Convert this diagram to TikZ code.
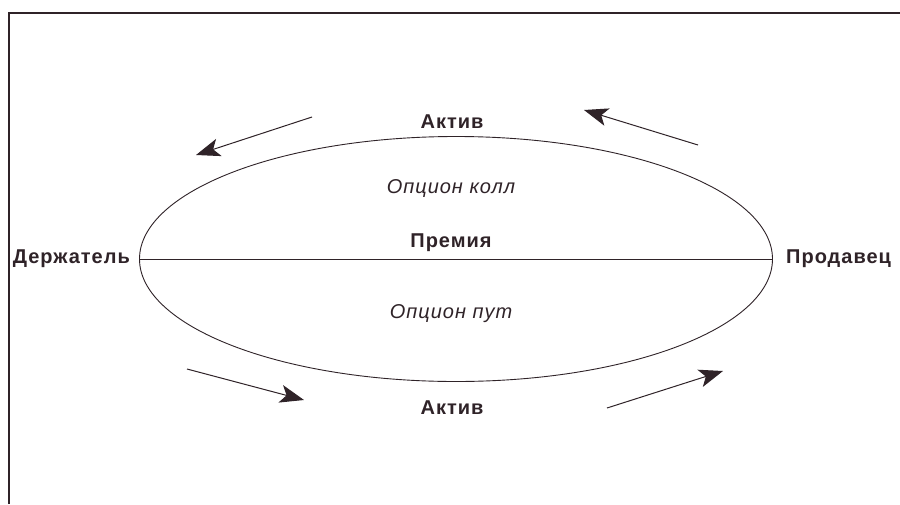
\documentclass[tikz,border=0pt]{standalone}
\usepackage{fontspec}
\setmainfont{Liberation Sans}
\newfontfamily\widefont[LetterSpace=5]{Liberation Sans}
\usepackage{tikz}
\usetikzlibrary{arrows.meta,positioning,shapes.geometric}
\definecolor{ink}{HTML}{2F2328}

\begin{document}
\begin{tikzpicture}[x=1pt,y=-1pt,
  lbl/.style={font=\widefont\fontsize{20}{22}\selectfont\bfseries, text=ink, inner sep=1pt},
  opt/.style={font=\widefont\fontsize{20}{22}\selectfont\itshape, text=ink, inner sep=1pt},
  flow/.style={draw=ink, line width=1pt, -{Stealth[length=24pt,width=18pt,inset=6pt]}}]
  \useasboundingbox (0,0) rectangle (900,504);
  \fill[white] (0,0) rectangle (900,504);

  % frame
  \draw[ink, line width=1.5pt] (9,504) -- (9,13) -- (900,13);

  \node (oval) [ellipse, draw=ink, line width=0.9pt, inner sep=0pt,
    minimum width=633pt, minimum height=245pt] at (456,259) {};
  \path [draw=ink, line width=0.9pt] (oval.west) -- (oval.east);

  \node (holder) [lbl, left=8pt of oval.west] {Держатель};
  \node (seller) [lbl, right=12pt of oval.east] {Продавец};
  \node (prem) [lbl, anchor=south] at (451,253) {Премия};
  \node (atop) [lbl] at (452,122) {Актив};
  \node (abot) [lbl] at (452,408) {Актив};
  \node (call) [opt] at (451,189) {Опцион колл};
  \node (put) [opt] at (451,314) {Опцион пут};

  \coordinate (tl1) at (312,117); \coordinate (tl2) at (196,155);
  \coordinate (tr1) at (698,145); \coordinate (tr2) at (584,110);
  \coordinate (bl1) at (187,369); \coordinate (bl2) at (304,400);
  \coordinate (br1) at (607,408); \coordinate (br2) at (723,371);

  \path
  (tl1) edge [flow] (tl2)
  (tr1) edge [flow] (tr2)
  (bl1) edge [flow] (bl2)
  (br1) edge [flow] (br2);

\end{tikzpicture}
\end{document}
